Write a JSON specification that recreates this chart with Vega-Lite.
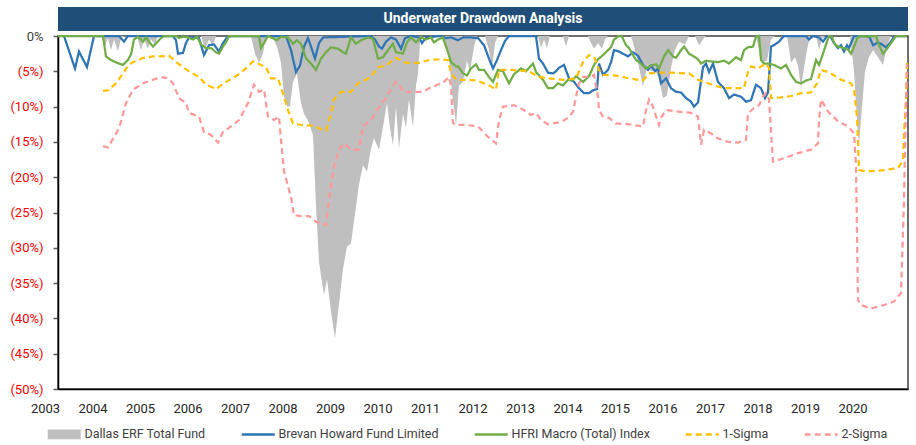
{
"$schema": "https://vega.github.io/schema/vega-lite/v6.json",
"background": "white",
"padding": {"left": 9, "top": 7, "right": 5, "bottom": 2},
"config": {"view": {"stroke": null}, "font": "Roboto"},
"spacing": 5,
"bounds": "flush",
"datasets": {"d": [
{"s":"Dallas ERF Total Fund","t":2003.274,"v":0},{"s":"Dallas ERF Total Fund","t":2004.179,"v":0},{"s":"Dallas ERF Total Fund","t":2004.263,"v":-1.5},{"s":"Dallas ERF Total Fund","t":2004.326,"v":-0.3},{"s":"Dallas ERF Total Fund","t":2004.389,"v":-2.0},{"s":"Dallas ERF Total Fund","t":2004.453,"v":-0.5},{"s":"Dallas ERF Total Fund","t":2004.537,"v":-2.2},{"s":"Dallas ERF Total Fund","t":2004.600,"v":-0.3},{"s":"Dallas ERF Total Fund","t":2004.684,"v":0},{"s":"Dallas ERF Total Fund","t":2004.937,"v":0},{"s":"Dallas ERF Total Fund","t":2005.021,"v":-2.0},{"s":"Dallas ERF Total Fund","t":2005.084,"v":-0.5},{"s":"Dallas ERF Total Fund","t":2005.168,"v":-1.8},{"s":"Dallas ERF Total Fund","t":2005.232,"v":-0.5},{"s":"Dallas ERF Total Fund","t":2005.316,"v":-1.2},{"s":"Dallas ERF Total Fund","t":2005.379,"v":0},{"s":"Dallas ERF Total Fund","t":2006.284,"v":0},{"s":"Dallas ERF Total Fund","t":2006.368,"v":-1.8},{"s":"Dallas ERF Total Fund","t":2006.453,"v":-0.5},{"s":"Dallas ERF Total Fund","t":2006.537,"v":-1.5},{"s":"Dallas ERF Total Fund","t":2006.600,"v":0},{"s":"Dallas ERF Total Fund","t":2007.337,"v":0},{"s":"Dallas ERF Total Fund","t":2007.421,"v":-2.5},{"s":"Dallas ERF Total Fund","t":2007.505,"v":-3.8},{"s":"Dallas ERF Total Fund","t":2007.589,"v":-2.5},{"s":"Dallas ERF Total Fund","t":2007.653,"v":0},{"s":"Dallas ERF Total Fund","t":2007.779,"v":0},{"s":"Dallas ERF Total Fund","t":2007.884,"v":-1.5},{"s":"Dallas ERF Total Fund","t":2007.968,"v":-3.8},{"s":"Dallas ERF Total Fund","t":2008.032,"v":-8.6},{"s":"Dallas ERF Total Fund","t":2008.095,"v":-10.0},{"s":"Dallas ERF Total Fund","t":2008.158,"v":-10.0},{"s":"Dallas ERF Total Fund","t":2008.221,"v":-6.5},{"s":"Dallas ERF Total Fund","t":2008.305,"v":-5.3},{"s":"Dallas ERF Total Fund","t":2008.389,"v":-9.5},{"s":"Dallas ERF Total Fund","t":2008.453,"v":-11.0},{"s":"Dallas ERF Total Fund","t":2008.537,"v":-12.0},{"s":"Dallas ERF Total Fund","t":2008.642,"v":-14.0},{"s":"Dallas ERF Total Fund","t":2008.705,"v":-24.0},{"s":"Dallas ERF Total Fund","t":2008.768,"v":-32.0},{"s":"Dallas ERF Total Fund","t":2008.874,"v":-36.7},{"s":"Dallas ERF Total Fund","t":2008.937,"v":-34.5},{"s":"Dallas ERF Total Fund","t":2009.021,"v":-39.0},{"s":"Dallas ERF Total Fund","t":2009.105,"v":-42.8},{"s":"Dallas ERF Total Fund","t":2009.189,"v":-38.0},{"s":"Dallas ERF Total Fund","t":2009.274,"v":-33.0},{"s":"Dallas ERF Total Fund","t":2009.358,"v":-29.8},{"s":"Dallas ERF Total Fund","t":2009.442,"v":-29.4},{"s":"Dallas ERF Total Fund","t":2009.547,"v":-24.2},{"s":"Dallas ERF Total Fund","t":2009.611,"v":-21.0},{"s":"Dallas ERF Total Fund","t":2009.695,"v":-18.3},{"s":"Dallas ERF Total Fund","t":2009.779,"v":-19.2},{"s":"Dallas ERF Total Fund","t":2009.863,"v":-16.0},{"s":"Dallas ERF Total Fund","t":2009.926,"v":-14.5},{"s":"Dallas ERF Total Fund","t":2010.032,"v":-16.1},{"s":"Dallas ERF Total Fund","t":2010.137,"v":-12.0},{"s":"Dallas ERF Total Fund","t":2010.200,"v":-9.5},{"s":"Dallas ERF Total Fund","t":2010.263,"v":-13.0},{"s":"Dallas ERF Total Fund","t":2010.326,"v":-15.5},{"s":"Dallas ERF Total Fund","t":2010.389,"v":-10.0},{"s":"Dallas ERF Total Fund","t":2010.453,"v":-15.9},{"s":"Dallas ERF Total Fund","t":2010.537,"v":-11.0},{"s":"Dallas ERF Total Fund","t":2010.600,"v":-13.0},{"s":"Dallas ERF Total Fund","t":2010.663,"v":-9.0},{"s":"Dallas ERF Total Fund","t":2010.747,"v":-12.9},{"s":"Dallas ERF Total Fund","t":2010.811,"v":-7.0},{"s":"Dallas ERF Total Fund","t":2010.853,"v":-5.3},{"s":"Dallas ERF Total Fund","t":2010.895,"v":-1.0},{"s":"Dallas ERF Total Fund","t":2010.937,"v":0},{"s":"Dallas ERF Total Fund","t":2011.337,"v":0},{"s":"Dallas ERF Total Fund","t":2011.421,"v":-1.5},{"s":"Dallas ERF Total Fund","t":2011.505,"v":-3.0},{"s":"Dallas ERF Total Fund","t":2011.568,"v":-8.0},{"s":"Dallas ERF Total Fund","t":2011.653,"v":-12.6},{"s":"Dallas ERF Total Fund","t":2011.716,"v":-7.0},{"s":"Dallas ERF Total Fund","t":2011.800,"v":-6.5},{"s":"Dallas ERF Total Fund","t":2011.884,"v":-3.5},{"s":"Dallas ERF Total Fund","t":2011.947,"v":-5.0},{"s":"Dallas ERF Total Fund","t":2012.032,"v":-1.5},{"s":"Dallas ERF Total Fund","t":2012.095,"v":0},{"s":"Dallas ERF Total Fund","t":2012.263,"v":0},{"s":"Dallas ERF Total Fund","t":2012.347,"v":-2.0},{"s":"Dallas ERF Total Fund","t":2012.411,"v":-4.6},{"s":"Dallas ERF Total Fund","t":2012.474,"v":-1.0},{"s":"Dallas ERF Total Fund","t":2012.537,"v":0},{"s":"Dallas ERF Total Fund","t":2013.379,"v":0},{"s":"Dallas ERF Total Fund","t":2013.442,"v":-1.7},{"s":"Dallas ERF Total Fund","t":2013.505,"v":-0.5},{"s":"Dallas ERF Total Fund","t":2013.568,"v":-1.7},{"s":"Dallas ERF Total Fund","t":2013.632,"v":0},{"s":"Dallas ERF Total Fund","t":2013.905,"v":0},{"s":"Dallas ERF Total Fund","t":2013.968,"v":-1.5},{"s":"Dallas ERF Total Fund","t":2014.032,"v":0},{"s":"Dallas ERF Total Fund","t":2014.432,"v":0},{"s":"Dallas ERF Total Fund","t":2014.495,"v":-1.0},{"s":"Dallas ERF Total Fund","t":2014.558,"v":-1.8},{"s":"Dallas ERF Total Fund","t":2014.642,"v":-1.0},{"s":"Dallas ERF Total Fund","t":2014.726,"v":-1.8},{"s":"Dallas ERF Total Fund","t":2014.789,"v":-0.5},{"s":"Dallas ERF Total Fund","t":2014.853,"v":0},{"s":"Dallas ERF Total Fund","t":2015.337,"v":0},{"s":"Dallas ERF Total Fund","t":2015.421,"v":-2.0},{"s":"Dallas ERF Total Fund","t":2015.505,"v":-4.4},{"s":"Dallas ERF Total Fund","t":2015.589,"v":-7.2},{"s":"Dallas ERF Total Fund","t":2015.674,"v":-4.4},{"s":"Dallas ERF Total Fund","t":2015.758,"v":-5.0},{"s":"Dallas ERF Total Fund","t":2015.842,"v":-4.8},{"s":"Dallas ERF Total Fund","t":2015.926,"v":-6.0},{"s":"Dallas ERF Total Fund","t":2016.011,"v":-8.8},{"s":"Dallas ERF Total Fund","t":2016.095,"v":-8.4},{"s":"Dallas ERF Total Fund","t":2016.179,"v":-4.5},{"s":"Dallas ERF Total Fund","t":2016.263,"v":-2.0},{"s":"Dallas ERF Total Fund","t":2016.347,"v":-0.8},{"s":"Dallas ERF Total Fund","t":2016.474,"v":-1.2},{"s":"Dallas ERF Total Fund","t":2016.558,"v":0},{"s":"Dallas ERF Total Fund","t":2016.684,"v":0},{"s":"Dallas ERF Total Fund","t":2016.768,"v":-1.3},{"s":"Dallas ERF Total Fund","t":2016.853,"v":-0.5},{"s":"Dallas ERF Total Fund","t":2016.916,"v":0},{"s":"Dallas ERF Total Fund","t":2017.968,"v":0},{"s":"Dallas ERF Total Fund","t":2018.032,"v":-2.0},{"s":"Dallas ERF Total Fund","t":2018.116,"v":-3.7},{"s":"Dallas ERF Total Fund","t":2018.200,"v":-3.5},{"s":"Dallas ERF Total Fund","t":2018.284,"v":-0.5},{"s":"Dallas ERF Total Fund","t":2018.368,"v":0},{"s":"Dallas ERF Total Fund","t":2018.621,"v":0},{"s":"Dallas ERF Total Fund","t":2018.705,"v":-3.8},{"s":"Dallas ERF Total Fund","t":2018.789,"v":-3.0},{"s":"Dallas ERF Total Fund","t":2018.853,"v":-4.2},{"s":"Dallas ERF Total Fund","t":2018.916,"v":-7.4},{"s":"Dallas ERF Total Fund","t":2018.979,"v":-4.5},{"s":"Dallas ERF Total Fund","t":2019.042,"v":-2.0},{"s":"Dallas ERF Total Fund","t":2019.105,"v":0},{"s":"Dallas ERF Total Fund","t":2019.232,"v":0},{"s":"Dallas ERF Total Fund","t":2019.295,"v":-2.0},{"s":"Dallas ERF Total Fund","t":2019.358,"v":-0.5},{"s":"Dallas ERF Total Fund","t":2019.421,"v":0},{"s":"Dallas ERF Total Fund","t":2019.947,"v":0},{"s":"Dallas ERF Total Fund","t":2020.032,"v":-5.0},{"s":"Dallas ERF Total Fund","t":2020.095,"v":-12.0},{"s":"Dallas ERF Total Fund","t":2020.137,"v":-15.4},{"s":"Dallas ERF Total Fund","t":2020.200,"v":-10.0},{"s":"Dallas ERF Total Fund","t":2020.263,"v":-5.0},{"s":"Dallas ERF Total Fund","t":2020.347,"v":-3.0},{"s":"Dallas ERF Total Fund","t":2020.432,"v":-2.0},{"s":"Dallas ERF Total Fund","t":2020.537,"v":-3.0},{"s":"Dallas ERF Total Fund","t":2020.642,"v":-4.1},{"s":"Dallas ERF Total Fund","t":2020.726,"v":-1.5},{"s":"Dallas ERF Total Fund","t":2020.811,"v":0},{"s":"Dallas ERF Total Fund","t":2021.147,"v":0},
{"s":"Brevan Howard Fund Limited","t":2003.400,"v":0},{"s":"Brevan Howard Fund Limited","t":2003.632,"v":-4.6},{"s":"Brevan Howard Fund Limited","t":2003.716,"v":-2.2},{"s":"Brevan Howard Fund Limited","t":2003.884,"v":-4.4},{"s":"Brevan Howard Fund Limited","t":2004.032,"v":0},{"s":"Brevan Howard Fund Limited","t":2004.558,"v":0},{"s":"Brevan Howard Fund Limited","t":2004.663,"v":-0.8},{"s":"Brevan Howard Fund Limited","t":2004.747,"v":0},{"s":"Brevan Howard Fund Limited","t":2005.695,"v":0},{"s":"Brevan Howard Fund Limited","t":2005.758,"v":-0.6},{"s":"Brevan Howard Fund Limited","t":2005.800,"v":-2.5},{"s":"Brevan Howard Fund Limited","t":2005.905,"v":-2.4},{"s":"Brevan Howard Fund Limited","t":2005.968,"v":-1.0},{"s":"Brevan Howard Fund Limited","t":2006.032,"v":-0.2},{"s":"Brevan Howard Fund Limited","t":2006.242,"v":-0.3},{"s":"Brevan Howard Fund Limited","t":2006.347,"v":-2.7},{"s":"Brevan Howard Fund Limited","t":2006.453,"v":-1.3},{"s":"Brevan Howard Fund Limited","t":2006.558,"v":-1.2},{"s":"Brevan Howard Fund Limited","t":2006.663,"v":-2.2},{"s":"Brevan Howard Fund Limited","t":2006.747,"v":-1.0},{"s":"Brevan Howard Fund Limited","t":2006.832,"v":-0.2},{"s":"Brevan Howard Fund Limited","t":2006.916,"v":0},{"s":"Brevan Howard Fund Limited","t":2008.074,"v":0},{"s":"Brevan Howard Fund Limited","t":2008.179,"v":-2.0},{"s":"Brevan Howard Fund Limited","t":2008.284,"v":-5.1},{"s":"Brevan Howard Fund Limited","t":2008.368,"v":-4.2},{"s":"Brevan Howard Fund Limited","t":2008.453,"v":-1.5},{"s":"Brevan Howard Fund Limited","t":2008.537,"v":-0.3},{"s":"Brevan Howard Fund Limited","t":2008.600,"v":-1.5},{"s":"Brevan Howard Fund Limited","t":2008.684,"v":-3.2},{"s":"Brevan Howard Fund Limited","t":2008.768,"v":-1.0},{"s":"Brevan Howard Fund Limited","t":2008.853,"v":-0.2},{"s":"Brevan Howard Fund Limited","t":2009.863,"v":0},{"s":"Brevan Howard Fund Limited","t":2009.947,"v":-0.5},{"s":"Brevan Howard Fund Limited","t":2010.032,"v":-1.5},{"s":"Brevan Howard Fund Limited","t":2010.095,"v":-1.8},{"s":"Brevan Howard Fund Limited","t":2010.179,"v":-0.8},{"s":"Brevan Howard Fund Limited","t":2010.284,"v":-0.2},{"s":"Brevan Howard Fund Limited","t":2010.389,"v":-0.5},{"s":"Brevan Howard Fund Limited","t":2010.495,"v":-1.8},{"s":"Brevan Howard Fund Limited","t":2010.579,"v":-0.3},{"s":"Brevan Howard Fund Limited","t":2010.705,"v":0},{"s":"Brevan Howard Fund Limited","t":2010.874,"v":-0.2},{"s":"Brevan Howard Fund Limited","t":2010.937,"v":-1.0},{"s":"Brevan Howard Fund Limited","t":2011.021,"v":-0.2},{"s":"Brevan Howard Fund Limited","t":2011.337,"v":0},{"s":"Brevan Howard Fund Limited","t":2011.442,"v":-0.3},{"s":"Brevan Howard Fund Limited","t":2011.547,"v":-0.2},{"s":"Brevan Howard Fund Limited","t":2011.695,"v":-0.6},{"s":"Brevan Howard Fund Limited","t":2011.800,"v":-0.2},{"s":"Brevan Howard Fund Limited","t":2011.968,"v":-0.2},{"s":"Brevan Howard Fund Limited","t":2012.116,"v":-0.3},{"s":"Brevan Howard Fund Limited","t":2012.242,"v":-1.3},{"s":"Brevan Howard Fund Limited","t":2012.347,"v":-3.2},{"s":"Brevan Howard Fund Limited","t":2012.432,"v":-4.6},{"s":"Brevan Howard Fund Limited","t":2012.516,"v":-3.4},{"s":"Brevan Howard Fund Limited","t":2012.600,"v":-2.0},{"s":"Brevan Howard Fund Limited","t":2012.684,"v":-0.7},{"s":"Brevan Howard Fund Limited","t":2012.768,"v":0},{"s":"Brevan Howard Fund Limited","t":2013.337,"v":0},{"s":"Brevan Howard Fund Limited","t":2013.400,"v":-3.2},{"s":"Brevan Howard Fund Limited","t":2013.484,"v":-3.9},{"s":"Brevan Howard Fund Limited","t":2013.589,"v":-5.2},{"s":"Brevan Howard Fund Limited","t":2013.695,"v":-5.3},{"s":"Brevan Howard Fund Limited","t":2013.758,"v":-5.0},{"s":"Brevan Howard Fund Limited","t":2013.821,"v":-4.5},{"s":"Brevan Howard Fund Limited","t":2013.926,"v":-4.1},{"s":"Brevan Howard Fund Limited","t":2014.032,"v":-6.0},{"s":"Brevan Howard Fund Limited","t":2014.137,"v":-6.5},{"s":"Brevan Howard Fund Limited","t":2014.242,"v":-7.4},{"s":"Brevan Howard Fund Limited","t":2014.347,"v":-8.1},{"s":"Brevan Howard Fund Limited","t":2014.453,"v":-8.1},{"s":"Brevan Howard Fund Limited","t":2014.537,"v":-7.7},{"s":"Brevan Howard Fund Limited","t":2014.621,"v":-7.5},{"s":"Brevan Howard Fund Limited","t":2014.663,"v":-3.9},{"s":"Brevan Howard Fund Limited","t":2014.747,"v":-5.5},{"s":"Brevan Howard Fund Limited","t":2014.853,"v":-4.8},{"s":"Brevan Howard Fund Limited","t":2014.916,"v":-3.7},{"s":"Brevan Howard Fund Limited","t":2014.979,"v":-2.0},{"s":"Brevan Howard Fund Limited","t":2015.084,"v":-2.2},{"s":"Brevan Howard Fund Limited","t":2015.168,"v":-2.5},{"s":"Brevan Howard Fund Limited","t":2015.274,"v":-2.9},{"s":"Brevan Howard Fund Limited","t":2015.379,"v":-2.3},{"s":"Brevan Howard Fund Limited","t":2015.484,"v":-2.8},{"s":"Brevan Howard Fund Limited","t":2015.589,"v":-4.1},{"s":"Brevan Howard Fund Limited","t":2015.695,"v":-4.8},{"s":"Brevan Howard Fund Limited","t":2015.758,"v":-4.2},{"s":"Brevan Howard Fund Limited","t":2015.842,"v":-5.0},{"s":"Brevan Howard Fund Limited","t":2015.905,"v":-4.6},{"s":"Brevan Howard Fund Limited","t":2015.968,"v":-6.7},{"s":"Brevan Howard Fund Limited","t":2016.074,"v":-6.0},{"s":"Brevan Howard Fund Limited","t":2016.179,"v":-7.4},{"s":"Brevan Howard Fund Limited","t":2016.284,"v":-7.9},{"s":"Brevan Howard Fund Limited","t":2016.389,"v":-8.0},{"s":"Brevan Howard Fund Limited","t":2016.495,"v":-8.8},{"s":"Brevan Howard Fund Limited","t":2016.600,"v":-9.3},{"s":"Brevan Howard Fund Limited","t":2016.663,"v":-10.0},{"s":"Brevan Howard Fund Limited","t":2016.747,"v":-9.4},{"s":"Brevan Howard Fund Limited","t":2016.853,"v":-4.4},{"s":"Brevan Howard Fund Limited","t":2016.916,"v":-3.9},{"s":"Brevan Howard Fund Limited","t":2016.979,"v":-5.1},{"s":"Brevan Howard Fund Limited","t":2017.063,"v":-3.9},{"s":"Brevan Howard Fund Limited","t":2017.168,"v":-6.5},{"s":"Brevan Howard Fund Limited","t":2017.295,"v":-7.4},{"s":"Brevan Howard Fund Limited","t":2017.400,"v":-8.8},{"s":"Brevan Howard Fund Limited","t":2017.505,"v":-8.3},{"s":"Brevan Howard Fund Limited","t":2017.653,"v":-8.6},{"s":"Brevan Howard Fund Limited","t":2017.758,"v":-9.3},{"s":"Brevan Howard Fund Limited","t":2017.863,"v":-9.1},{"s":"Brevan Howard Fund Limited","t":2017.968,"v":-6.9},{"s":"Brevan Howard Fund Limited","t":2018.074,"v":-7.4},{"s":"Brevan Howard Fund Limited","t":2018.158,"v":-8.8},{"s":"Brevan Howard Fund Limited","t":2018.221,"v":-8.0},{"s":"Brevan Howard Fund Limited","t":2018.284,"v":-1.5},{"s":"Brevan Howard Fund Limited","t":2018.368,"v":-1.2},{"s":"Brevan Howard Fund Limited","t":2018.453,"v":-0.8},{"s":"Brevan Howard Fund Limited","t":2018.558,"v":0},{"s":"Brevan Howard Fund Limited","t":2019.021,"v":0},{"s":"Brevan Howard Fund Limited","t":2019.084,"v":-0.5},{"s":"Brevan Howard Fund Limited","t":2019.168,"v":0},{"s":"Brevan Howard Fund Limited","t":2019.295,"v":-0.2},{"s":"Brevan Howard Fund Limited","t":2019.379,"v":-0.8},{"s":"Brevan Howard Fund Limited","t":2019.463,"v":0},{"s":"Brevan Howard Fund Limited","t":2019.547,"v":-0.2},{"s":"Brevan Howard Fund Limited","t":2019.611,"v":-1.0},{"s":"Brevan Howard Fund Limited","t":2019.695,"v":-1.7},{"s":"Brevan Howard Fund Limited","t":2019.758,"v":-1.3},{"s":"Brevan Howard Fund Limited","t":2019.821,"v":-2.2},{"s":"Brevan Howard Fund Limited","t":2019.884,"v":-1.3},{"s":"Brevan Howard Fund Limited","t":2019.926,"v":-1.7},{"s":"Brevan Howard Fund Limited","t":2019.968,"v":-1.0},{"s":"Brevan Howard Fund Limited","t":2020.032,"v":0},{"s":"Brevan Howard Fund Limited","t":2020.347,"v":0},{"s":"Brevan Howard Fund Limited","t":2020.432,"v":-1.3},{"s":"Brevan Howard Fund Limited","t":2020.537,"v":-0.9},{"s":"Brevan Howard Fund Limited","t":2020.621,"v":-1.2},{"s":"Brevan Howard Fund Limited","t":2020.705,"v":-1.6},{"s":"Brevan Howard Fund Limited","t":2020.789,"v":-1.0},{"s":"Brevan Howard Fund Limited","t":2020.853,"v":-0.3},{"s":"Brevan Howard Fund Limited","t":2020.916,"v":0},{"s":"Brevan Howard Fund Limited","t":2021.147,"v":0},
{"s":"HFRI Macro (Total) Index","t":2003.274,"v":0},{"s":"HFRI Macro (Total) Index","t":2004.221,"v":0},{"s":"HFRI Macro (Total) Index","t":2004.284,"v":-2.9},{"s":"HFRI Macro (Total) Index","t":2004.389,"v":-3.4},{"s":"HFRI Macro (Total) Index","t":2004.516,"v":-3.8},{"s":"HFRI Macro (Total) Index","t":2004.642,"v":-4.1},{"s":"HFRI Macro (Total) Index","t":2004.747,"v":-3.4},{"s":"HFRI Macro (Total) Index","t":2004.811,"v":-2.6},{"s":"HFRI Macro (Total) Index","t":2004.874,"v":-0.5},{"s":"HFRI Macro (Total) Index","t":2004.958,"v":-0.1},{"s":"HFRI Macro (Total) Index","t":2005.063,"v":-0.8},{"s":"HFRI Macro (Total) Index","t":2005.126,"v":-0.2},{"s":"HFRI Macro (Total) Index","t":2005.189,"v":-0.8},{"s":"HFRI Macro (Total) Index","t":2005.274,"v":-1.5},{"s":"HFRI Macro (Total) Index","t":2005.358,"v":-0.9},{"s":"HFRI Macro (Total) Index","t":2005.442,"v":-0.3},{"s":"HFRI Macro (Total) Index","t":2005.505,"v":0},{"s":"HFRI Macro (Total) Index","t":2005.758,"v":0},{"s":"HFRI Macro (Total) Index","t":2005.821,"v":-0.3},{"s":"HFRI Macro (Total) Index","t":2005.905,"v":-0.1},{"s":"HFRI Macro (Total) Index","t":2006.011,"v":-0.2},{"s":"HFRI Macro (Total) Index","t":2006.116,"v":-0.5},{"s":"HFRI Macro (Total) Index","t":2006.200,"v":-0.1},{"s":"HFRI Macro (Total) Index","t":2006.284,"v":-1.2},{"s":"HFRI Macro (Total) Index","t":2006.389,"v":-1.7},{"s":"HFRI Macro (Total) Index","t":2006.495,"v":-1.7},{"s":"HFRI Macro (Total) Index","t":2006.600,"v":-2.3},{"s":"HFRI Macro (Total) Index","t":2006.663,"v":-2.5},{"s":"HFRI Macro (Total) Index","t":2006.747,"v":-1.5},{"s":"HFRI Macro (Total) Index","t":2006.811,"v":-0.9},{"s":"HFRI Macro (Total) Index","t":2006.874,"v":0},{"s":"HFRI Macro (Total) Index","t":2007.505,"v":0},{"s":"HFRI Macro (Total) Index","t":2007.547,"v":-1.7},{"s":"HFRI Macro (Total) Index","t":2007.611,"v":-1.0},{"s":"HFRI Macro (Total) Index","t":2007.695,"v":0},{"s":"HFRI Macro (Total) Index","t":2007.884,"v":-0.6},{"s":"HFRI Macro (Total) Index","t":2007.968,"v":-0.1},{"s":"HFRI Macro (Total) Index","t":2008.116,"v":-0.2},{"s":"HFRI Macro (Total) Index","t":2008.221,"v":-1.1},{"s":"HFRI Macro (Total) Index","t":2008.305,"v":-0.6},{"s":"HFRI Macro (Total) Index","t":2008.389,"v":-1.1},{"s":"HFRI Macro (Total) Index","t":2008.495,"v":-3.2},{"s":"HFRI Macro (Total) Index","t":2008.600,"v":-3.9},{"s":"HFRI Macro (Total) Index","t":2008.705,"v":-4.8},{"s":"HFRI Macro (Total) Index","t":2008.811,"v":-3.2},{"s":"HFRI Macro (Total) Index","t":2008.916,"v":-2.3},{"s":"HFRI Macro (Total) Index","t":2009.021,"v":-1.6},{"s":"HFRI Macro (Total) Index","t":2009.168,"v":-1.8},{"s":"HFRI Macro (Total) Index","t":2009.274,"v":-2.3},{"s":"HFRI Macro (Total) Index","t":2009.337,"v":-2.5},{"s":"HFRI Macro (Total) Index","t":2009.442,"v":-0.2},{"s":"HFRI Macro (Total) Index","t":2009.547,"v":-1.1},{"s":"HFRI Macro (Total) Index","t":2009.653,"v":-0.6},{"s":"HFRI Macro (Total) Index","t":2009.800,"v":-0.2},{"s":"HFRI Macro (Total) Index","t":2009.905,"v":-0.4},{"s":"HFRI Macro (Total) Index","t":2010.011,"v":-3.2},{"s":"HFRI Macro (Total) Index","t":2010.116,"v":-3.0},{"s":"HFRI Macro (Total) Index","t":2010.221,"v":-2.0},{"s":"HFRI Macro (Total) Index","t":2010.326,"v":-1.1},{"s":"HFRI Macro (Total) Index","t":2010.389,"v":-2.3},{"s":"HFRI Macro (Total) Index","t":2010.537,"v":-2.5},{"s":"HFRI Macro (Total) Index","t":2010.621,"v":-0.9},{"s":"HFRI Macro (Total) Index","t":2010.705,"v":-0.2},{"s":"HFRI Macro (Total) Index","t":2010.811,"v":-0.9},{"s":"HFRI Macro (Total) Index","t":2010.916,"v":-0.2},{"s":"HFRI Macro (Total) Index","t":2011.021,"v":-0.5},{"s":"HFRI Macro (Total) Index","t":2011.126,"v":-0.2},{"s":"HFRI Macro (Total) Index","t":2011.189,"v":-0.9},{"s":"HFRI Macro (Total) Index","t":2011.274,"v":-0.5},{"s":"HFRI Macro (Total) Index","t":2011.379,"v":-0.2},{"s":"HFRI Macro (Total) Index","t":2011.484,"v":-2.3},{"s":"HFRI Macro (Total) Index","t":2011.547,"v":-3.7},{"s":"HFRI Macro (Total) Index","t":2011.653,"v":-4.3},{"s":"HFRI Macro (Total) Index","t":2011.695,"v":-4.3},{"s":"HFRI Macro (Total) Index","t":2011.800,"v":-5.3},{"s":"HFRI Macro (Total) Index","t":2011.884,"v":-5.6},{"s":"HFRI Macro (Total) Index","t":2011.968,"v":-4.6},{"s":"HFRI Macro (Total) Index","t":2012.074,"v":-4.0},{"s":"HFRI Macro (Total) Index","t":2012.137,"v":-4.8},{"s":"HFRI Macro (Total) Index","t":2012.242,"v":-4.8},{"s":"HFRI Macro (Total) Index","t":2012.347,"v":-5.8},{"s":"HFRI Macro (Total) Index","t":2012.432,"v":-6.5},{"s":"HFRI Macro (Total) Index","t":2012.537,"v":-4.8},{"s":"HFRI Macro (Total) Index","t":2012.642,"v":-5.0},{"s":"HFRI Macro (Total) Index","t":2012.768,"v":-6.7},{"s":"HFRI Macro (Total) Index","t":2012.874,"v":-5.4},{"s":"HFRI Macro (Total) Index","t":2013.021,"v":-4.6},{"s":"HFRI Macro (Total) Index","t":2013.126,"v":-5.0},{"s":"HFRI Macro (Total) Index","t":2013.274,"v":-3.9},{"s":"HFRI Macro (Total) Index","t":2013.337,"v":-5.1},{"s":"HFRI Macro (Total) Index","t":2013.484,"v":-6.2},{"s":"HFRI Macro (Total) Index","t":2013.589,"v":-7.4},{"s":"HFRI Macro (Total) Index","t":2013.695,"v":-7.4},{"s":"HFRI Macro (Total) Index","t":2013.800,"v":-6.7},{"s":"HFRI Macro (Total) Index","t":2013.905,"v":-7.0},{"s":"HFRI Macro (Total) Index","t":2014.011,"v":-6.2},{"s":"HFRI Macro (Total) Index","t":2014.095,"v":-6.3},{"s":"HFRI Macro (Total) Index","t":2014.179,"v":-5.7},{"s":"HFRI Macro (Total) Index","t":2014.326,"v":-6.5},{"s":"HFRI Macro (Total) Index","t":2014.453,"v":-5.7},{"s":"HFRI Macro (Total) Index","t":2014.558,"v":-4.1},{"s":"HFRI Macro (Total) Index","t":2014.642,"v":-3.3},{"s":"HFRI Macro (Total) Index","t":2014.747,"v":-2.7},{"s":"HFRI Macro (Total) Index","t":2014.853,"v":-2.0},{"s":"HFRI Macro (Total) Index","t":2014.916,"v":-1.6},{"s":"HFRI Macro (Total) Index","t":2014.979,"v":-0.5},{"s":"HFRI Macro (Total) Index","t":2015.084,"v":0},{"s":"HFRI Macro (Total) Index","t":2015.147,"v":-0.1},{"s":"HFRI Macro (Total) Index","t":2015.232,"v":-1.3},{"s":"HFRI Macro (Total) Index","t":2015.295,"v":-1.7},{"s":"HFRI Macro (Total) Index","t":2015.379,"v":-2.7},{"s":"HFRI Macro (Total) Index","t":2015.442,"v":-3.4},{"s":"HFRI Macro (Total) Index","t":2015.547,"v":-3.9},{"s":"HFRI Macro (Total) Index","t":2015.653,"v":-4.6},{"s":"HFRI Macro (Total) Index","t":2015.758,"v":-4.2},{"s":"HFRI Macro (Total) Index","t":2015.863,"v":-4.0},{"s":"HFRI Macro (Total) Index","t":2015.926,"v":-4.6},{"s":"HFRI Macro (Total) Index","t":2016.032,"v":-2.9},{"s":"HFRI Macro (Total) Index","t":2016.116,"v":-2.0},{"s":"HFRI Macro (Total) Index","t":2016.221,"v":-2.9},{"s":"HFRI Macro (Total) Index","t":2016.284,"v":-3.1},{"s":"HFRI Macro (Total) Index","t":2016.389,"v":-2.0},{"s":"HFRI Macro (Total) Index","t":2016.453,"v":-1.5},{"s":"HFRI Macro (Total) Index","t":2016.558,"v":-2.5},{"s":"HFRI Macro (Total) Index","t":2016.663,"v":-2.9},{"s":"HFRI Macro (Total) Index","t":2016.747,"v":-3.3},{"s":"HFRI Macro (Total) Index","t":2016.811,"v":-3.9},{"s":"HFRI Macro (Total) Index","t":2016.916,"v":-3.5},{"s":"HFRI Macro (Total) Index","t":2017.021,"v":-3.6},{"s":"HFRI Macro (Total) Index","t":2017.168,"v":-3.7},{"s":"HFRI Macro (Total) Index","t":2017.295,"v":-3.5},{"s":"HFRI Macro (Total) Index","t":2017.400,"v":-3.9},{"s":"HFRI Macro (Total) Index","t":2017.547,"v":-3.0},{"s":"HFRI Macro (Total) Index","t":2017.653,"v":-3.4},{"s":"HFRI Macro (Total) Index","t":2017.716,"v":-2.0},{"s":"HFRI Macro (Total) Index","t":2017.800,"v":-1.6},{"s":"HFRI Macro (Total) Index","t":2017.905,"v":-1.5},{"s":"HFRI Macro (Total) Index","t":2017.968,"v":-0.1},{"s":"HFRI Macro (Total) Index","t":2018.032,"v":0},{"s":"HFRI Macro (Total) Index","t":2018.074,"v":-3.4},{"s":"HFRI Macro (Total) Index","t":2018.137,"v":-3.9},{"s":"HFRI Macro (Total) Index","t":2018.242,"v":-3.9},{"s":"HFRI Macro (Total) Index","t":2018.347,"v":-4.1},{"s":"HFRI Macro (Total) Index","t":2018.495,"v":-4.6},{"s":"HFRI Macro (Total) Index","t":2018.600,"v":-4.1},{"s":"HFRI Macro (Total) Index","t":2018.705,"v":-5.5},{"s":"HFRI Macro (Total) Index","t":2018.811,"v":-6.5},{"s":"HFRI Macro (Total) Index","t":2018.916,"v":-6.7},{"s":"HFRI Macro (Total) Index","t":2019.021,"v":-6.3},{"s":"HFRI Macro (Total) Index","t":2019.126,"v":-6.1},{"s":"HFRI Macro (Total) Index","t":2019.232,"v":-3.4},{"s":"HFRI Macro (Total) Index","t":2019.295,"v":-4.1},{"s":"HFRI Macro (Total) Index","t":2019.379,"v":-2.5},{"s":"HFRI Macro (Total) Index","t":2019.442,"v":-1.2},{"s":"HFRI Macro (Total) Index","t":2019.505,"v":0},{"s":"HFRI Macro (Total) Index","t":2019.568,"v":-0.1},{"s":"HFRI Macro (Total) Index","t":2019.611,"v":-1.0},{"s":"HFRI Macro (Total) Index","t":2019.695,"v":-1.5},{"s":"HFRI Macro (Total) Index","t":2019.800,"v":-1.7},{"s":"HFRI Macro (Total) Index","t":2019.905,"v":-1.9},{"s":"HFRI Macro (Total) Index","t":2019.968,"v":-2.5},{"s":"HFRI Macro (Total) Index","t":2020.032,"v":-1.5},{"s":"HFRI Macro (Total) Index","t":2020.116,"v":-0.1},{"s":"HFRI Macro (Total) Index","t":2020.221,"v":0},{"s":"HFRI Macro (Total) Index","t":2020.326,"v":-0.1},{"s":"HFRI Macro (Total) Index","t":2020.389,"v":0},{"s":"HFRI Macro (Total) Index","t":2020.495,"v":0},{"s":"HFRI Macro (Total) Index","t":2020.558,"v":-1.3},{"s":"HFRI Macro (Total) Index","t":2020.642,"v":-2.5},{"s":"HFRI Macro (Total) Index","t":2020.705,"v":-2.0},{"s":"HFRI Macro (Total) Index","t":2020.811,"v":-1.0},{"s":"HFRI Macro (Total) Index","t":2020.916,"v":0},{"s":"HFRI Macro (Total) Index","t":2021.147,"v":0},
{"s":"1-Sigma","t":2004.221,"v":-7.75},{"s":"1-Sigma","t":2004.326,"v":-7.7},{"s":"1-Sigma","t":2004.495,"v":-6.7},{"s":"1-Sigma","t":2004.642,"v":-5.3},{"s":"1-Sigma","t":2004.768,"v":-4.0},{"s":"1-Sigma","t":2004.916,"v":-3.5},{"s":"1-Sigma","t":2005.063,"v":-3.1},{"s":"1-Sigma","t":2005.274,"v":-2.9},{"s":"1-Sigma","t":2005.442,"v":-2.9},{"s":"1-Sigma","t":2005.611,"v":-2.8},{"s":"1-Sigma","t":2005.716,"v":-3.4},{"s":"1-Sigma","t":2005.821,"v":-4.0},{"s":"1-Sigma","t":2005.905,"v":-4.4},{"s":"1-Sigma","t":2006.032,"v":-5.0},{"s":"1-Sigma","t":2006.137,"v":-5.4},{"s":"1-Sigma","t":2006.242,"v":-5.8},{"s":"1-Sigma","t":2006.389,"v":-6.9},{"s":"1-Sigma","t":2006.495,"v":-7.2},{"s":"1-Sigma","t":2006.600,"v":-7.5},{"s":"1-Sigma","t":2006.705,"v":-7.0},{"s":"1-Sigma","t":2006.811,"v":-6.5},{"s":"1-Sigma","t":2006.916,"v":-6.1},{"s":"1-Sigma","t":2007.063,"v":-5.5},{"s":"1-Sigma","t":2007.232,"v":-4.6},{"s":"1-Sigma","t":2007.379,"v":-3.6},{"s":"1-Sigma","t":2007.547,"v":-4.1},{"s":"1-Sigma","t":2007.653,"v":-4.4},{"s":"1-Sigma","t":2007.758,"v":-6.0},{"s":"1-Sigma","t":2007.905,"v":-6.0},{"s":"1-Sigma","t":2008.032,"v":-8.6},{"s":"1-Sigma","t":2008.116,"v":-10.5},{"s":"1-Sigma","t":2008.221,"v":-12.4},{"s":"1-Sigma","t":2008.389,"v":-12.6},{"s":"1-Sigma","t":2008.663,"v":-12.7},{"s":"1-Sigma","t":2008.811,"v":-13.2},{"s":"1-Sigma","t":2008.916,"v":-13.4},{"s":"1-Sigma","t":2009.021,"v":-11.0},{"s":"1-Sigma","t":2009.084,"v":-9.0},{"s":"1-Sigma","t":2009.147,"v":-8.5},{"s":"1-Sigma","t":2009.232,"v":-7.9},{"s":"1-Sigma","t":2009.442,"v":-7.9},{"s":"1-Sigma","t":2009.589,"v":-6.7},{"s":"1-Sigma","t":2009.758,"v":-6.2},{"s":"1-Sigma","t":2009.863,"v":-5.8},{"s":"1-Sigma","t":2010.011,"v":-4.4},{"s":"1-Sigma","t":2010.179,"v":-4.2},{"s":"1-Sigma","t":2010.389,"v":-3.1},{"s":"1-Sigma","t":2010.600,"v":-3.8},{"s":"1-Sigma","t":2010.874,"v":-3.8},{"s":"1-Sigma","t":2011.084,"v":-3.4},{"s":"1-Sigma","t":2011.295,"v":-3.3},{"s":"1-Sigma","t":2011.484,"v":-3.4},{"s":"1-Sigma","t":2011.547,"v":-5.3},{"s":"1-Sigma","t":2011.653,"v":-6.2},{"s":"1-Sigma","t":2011.863,"v":-6.2},{"s":"1-Sigma","t":2012.074,"v":-6.3},{"s":"1-Sigma","t":2012.326,"v":-6.9},{"s":"1-Sigma","t":2012.495,"v":-7.6},{"s":"1-Sigma","t":2012.558,"v":-4.8},{"s":"1-Sigma","t":2012.811,"v":-4.8},{"s":"1-Sigma","t":2012.958,"v":-4.9},{"s":"1-Sigma","t":2013.189,"v":-5.0},{"s":"1-Sigma","t":2013.400,"v":-5.8},{"s":"1-Sigma","t":2013.611,"v":-6.0},{"s":"1-Sigma","t":2013.905,"v":-6.2},{"s":"1-Sigma","t":2014.179,"v":-6.0},{"s":"1-Sigma","t":2014.326,"v":-3.7},{"s":"1-Sigma","t":2014.453,"v":-2.7},{"s":"1-Sigma","t":2014.558,"v":-2.9},{"s":"1-Sigma","t":2014.663,"v":-4.8},{"s":"1-Sigma","t":2014.747,"v":-5.5},{"s":"1-Sigma","t":2015.021,"v":-5.6},{"s":"1-Sigma","t":2015.295,"v":-6.0},{"s":"1-Sigma","t":2015.589,"v":-6.3},{"s":"1-Sigma","t":2015.716,"v":-5.3},{"s":"1-Sigma","t":2015.863,"v":-5.2},{"s":"1-Sigma","t":2016.137,"v":-5.2},{"s":"1-Sigma","t":2016.558,"v":-5.3},{"s":"1-Sigma","t":2016.747,"v":-6.2},{"s":"1-Sigma","t":2016.916,"v":-6.6},{"s":"1-Sigma","t":2017.084,"v":-7.0},{"s":"1-Sigma","t":2017.295,"v":-7.4},{"s":"1-Sigma","t":2017.547,"v":-7.4},{"s":"1-Sigma","t":2017.716,"v":-7.4},{"s":"1-Sigma","t":2017.800,"v":-5.1},{"s":"1-Sigma","t":2017.863,"v":-4.3},{"s":"1-Sigma","t":2018.011,"v":-4.6},{"s":"1-Sigma","t":2018.179,"v":-3.9},{"s":"1-Sigma","t":2018.242,"v":-4.5},{"s":"1-Sigma","t":2018.284,"v":-8.8},{"s":"1-Sigma","t":2018.495,"v":-8.7},{"s":"1-Sigma","t":2018.705,"v":-8.5},{"s":"1-Sigma","t":2018.916,"v":-8.1},{"s":"1-Sigma","t":2019.126,"v":-8.0},{"s":"1-Sigma","t":2019.253,"v":-6.7},{"s":"1-Sigma","t":2019.337,"v":-4.8},{"s":"1-Sigma","t":2019.442,"v":-5.0},{"s":"1-Sigma","t":2019.547,"v":-5.3},{"s":"1-Sigma","t":2019.758,"v":-6.2},{"s":"1-Sigma","t":2019.968,"v":-6.7},{"s":"1-Sigma","t":2020.032,"v":-7.5},{"s":"1-Sigma","t":2020.095,"v":-11.5},{"s":"1-Sigma","t":2020.137,"v":-19.0},{"s":"1-Sigma","t":2020.326,"v":-19.2},{"s":"1-Sigma","t":2020.495,"v":-19.1},{"s":"1-Sigma","t":2020.663,"v":-19.0},{"s":"1-Sigma","t":2020.958,"v":-18.7},{"s":"1-Sigma","t":2021.063,"v":-17.6},{"s":"1-Sigma","t":2021.084,"v":-13.8},{"s":"1-Sigma","t":2021.126,"v":-9.0},{"s":"1-Sigma","t":2021.147,"v":-3.8},
{"s":"2-Sigma","t":2004.221,"v":-15.6},{"s":"2-Sigma","t":2004.326,"v":-15.8},{"s":"2-Sigma","t":2004.453,"v":-14.3},{"s":"2-Sigma","t":2004.558,"v":-13.1},{"s":"2-Sigma","t":2004.705,"v":-9.5},{"s":"2-Sigma","t":2004.853,"v":-7.6},{"s":"2-Sigma","t":2005.063,"v":-6.7},{"s":"2-Sigma","t":2005.274,"v":-6.2},{"s":"2-Sigma","t":2005.442,"v":-5.8},{"s":"2-Sigma","t":2005.589,"v":-6.0},{"s":"2-Sigma","t":2005.695,"v":-6.7},{"s":"2-Sigma","t":2005.821,"v":-8.8},{"s":"2-Sigma","t":2005.968,"v":-9.5},{"s":"2-Sigma","t":2006.032,"v":-10.9},{"s":"2-Sigma","t":2006.242,"v":-11.4},{"s":"2-Sigma","t":2006.347,"v":-13.6},{"s":"2-Sigma","t":2006.495,"v":-14.0},{"s":"2-Sigma","t":2006.642,"v":-15.1},{"s":"2-Sigma","t":2006.747,"v":-13.6},{"s":"2-Sigma","t":2006.916,"v":-12.8},{"s":"2-Sigma","t":2007.084,"v":-11.9},{"s":"2-Sigma","t":2007.274,"v":-9.5},{"s":"2-Sigma","t":2007.400,"v":-6.9},{"s":"2-Sigma","t":2007.505,"v":-7.9},{"s":"2-Sigma","t":2007.611,"v":-7.6},{"s":"2-Sigma","t":2007.695,"v":-11.4},{"s":"2-Sigma","t":2007.821,"v":-11.9},{"s":"2-Sigma","t":2007.926,"v":-11.4},{"s":"2-Sigma","t":2007.968,"v":-14.7},{"s":"2-Sigma","t":2008.032,"v":-19.2},{"s":"2-Sigma","t":2008.179,"v":-22.8},{"s":"2-Sigma","t":2008.242,"v":-25.4},{"s":"2-Sigma","t":2008.389,"v":-25.5},{"s":"2-Sigma","t":2008.558,"v":-25.5},{"s":"2-Sigma","t":2008.705,"v":-26.3},{"s":"2-Sigma","t":2008.916,"v":-26.8},{"s":"2-Sigma","t":2008.979,"v":-23.2},{"s":"2-Sigma","t":2009.084,"v":-18.5},{"s":"2-Sigma","t":2009.189,"v":-16.1},{"s":"2-Sigma","t":2009.295,"v":-15.2},{"s":"2-Sigma","t":2009.442,"v":-16.1},{"s":"2-Sigma","t":2009.611,"v":-16.1},{"s":"2-Sigma","t":2009.695,"v":-12.8},{"s":"2-Sigma","t":2009.863,"v":-11.9},{"s":"2-Sigma","t":2009.989,"v":-10.5},{"s":"2-Sigma","t":2010.095,"v":-9.5},{"s":"2-Sigma","t":2010.200,"v":-8.6},{"s":"2-Sigma","t":2010.284,"v":-7.5},{"s":"2-Sigma","t":2010.389,"v":-6.5},{"s":"2-Sigma","t":2010.453,"v":-6.8},{"s":"2-Sigma","t":2010.537,"v":-7.9},{"s":"2-Sigma","t":2010.747,"v":-7.9},{"s":"2-Sigma","t":2010.958,"v":-7.9},{"s":"2-Sigma","t":2011.084,"v":-7.4},{"s":"2-Sigma","t":2011.232,"v":-7.0},{"s":"2-Sigma","t":2011.400,"v":-6.5},{"s":"2-Sigma","t":2011.505,"v":-5.8},{"s":"2-Sigma","t":2011.547,"v":-7.0},{"s":"2-Sigma","t":2011.589,"v":-12.3},{"s":"2-Sigma","t":2011.653,"v":-12.6},{"s":"2-Sigma","t":2011.863,"v":-12.6},{"s":"2-Sigma","t":2012.116,"v":-12.8},{"s":"2-Sigma","t":2012.326,"v":-14.3},{"s":"2-Sigma","t":2012.495,"v":-15.2},{"s":"2-Sigma","t":2012.558,"v":-11.9},{"s":"2-Sigma","t":2012.642,"v":-10.0},{"s":"2-Sigma","t":2012.874,"v":-9.8},{"s":"2-Sigma","t":2013.084,"v":-10.5},{"s":"2-Sigma","t":2013.232,"v":-11.2},{"s":"2-Sigma","t":2013.337,"v":-10.9},{"s":"2-Sigma","t":2013.442,"v":-11.9},{"s":"2-Sigma","t":2013.589,"v":-12.5},{"s":"2-Sigma","t":2013.863,"v":-12.2},{"s":"2-Sigma","t":2014.032,"v":-11.5},{"s":"2-Sigma","t":2014.116,"v":-10.7},{"s":"2-Sigma","t":2014.179,"v":-8.6},{"s":"2-Sigma","t":2014.242,"v":-6.7},{"s":"2-Sigma","t":2014.326,"v":-5.8},{"s":"2-Sigma","t":2014.453,"v":-5.8},{"s":"2-Sigma","t":2014.558,"v":-5.5},{"s":"2-Sigma","t":2014.642,"v":-8.6},{"s":"2-Sigma","t":2014.663,"v":-10.5},{"s":"2-Sigma","t":2014.747,"v":-11.4},{"s":"2-Sigma","t":2014.874,"v":-11.6},{"s":"2-Sigma","t":2015.021,"v":-12.4},{"s":"2-Sigma","t":2015.168,"v":-12.4},{"s":"2-Sigma","t":2015.379,"v":-12.6},{"s":"2-Sigma","t":2015.589,"v":-12.8},{"s":"2-Sigma","t":2015.653,"v":-10.5},{"s":"2-Sigma","t":2015.716,"v":-9.0},{"s":"2-Sigma","t":2015.800,"v":-10.0},{"s":"2-Sigma","t":2015.863,"v":-11.4},{"s":"2-Sigma","t":2015.926,"v":-12.6},{"s":"2-Sigma","t":2015.968,"v":-11.6},{"s":"2-Sigma","t":2016.074,"v":-10.5},{"s":"2-Sigma","t":2016.326,"v":-10.7},{"s":"2-Sigma","t":2016.600,"v":-10.9},{"s":"2-Sigma","t":2016.747,"v":-11.4},{"s":"2-Sigma","t":2016.811,"v":-15.4},{"s":"2-Sigma","t":2016.874,"v":-13.3},{"s":"2-Sigma","t":2017.021,"v":-13.8},{"s":"2-Sigma","t":2017.168,"v":-14.5},{"s":"2-Sigma","t":2017.379,"v":-15.0},{"s":"2-Sigma","t":2017.589,"v":-15.1},{"s":"2-Sigma","t":2017.758,"v":-14.7},{"s":"2-Sigma","t":2017.800,"v":-11.0},{"s":"2-Sigma","t":2017.926,"v":-10.2},{"s":"2-Sigma","t":2018.032,"v":-9.8},{"s":"2-Sigma","t":2018.116,"v":-8.6},{"s":"2-Sigma","t":2018.179,"v":-8.1},{"s":"2-Sigma","t":2018.242,"v":-9.0},{"s":"2-Sigma","t":2018.326,"v":-17.8},{"s":"2-Sigma","t":2018.558,"v":-17.3},{"s":"2-Sigma","t":2018.853,"v":-16.6},{"s":"2-Sigma","t":2019.126,"v":-16.1},{"s":"2-Sigma","t":2019.274,"v":-15.2},{"s":"2-Sigma","t":2019.295,"v":-11.9},{"s":"2-Sigma","t":2019.337,"v":-9.0},{"s":"2-Sigma","t":2019.484,"v":-10.7},{"s":"2-Sigma","t":2019.695,"v":-12.1},{"s":"2-Sigma","t":2019.905,"v":-12.8},{"s":"2-Sigma","t":2020.032,"v":-13.8},{"s":"2-Sigma","t":2020.074,"v":-18.5},{"s":"2-Sigma","t":2020.116,"v":-37.4},{"s":"2-Sigma","t":2020.179,"v":-38.1},{"s":"2-Sigma","t":2020.389,"v":-38.6},{"s":"2-Sigma","t":2020.663,"v":-38.1},{"s":"2-Sigma","t":2020.874,"v":-37.6},{"s":"2-Sigma","t":2021.021,"v":-36.4},{"s":"2-Sigma","t":2021.084,"v":-23.2},{"s":"2-Sigma","t":2021.126,"v":-9.0},{"s":"2-Sigma","t":2021.147,"v":-4.0}
]},
"vconcat": [
{
"width": 850, "height": 24,
"view": {"fill": "#1F4E79", "stroke": null},
"data": {"values": [{"label": "Underwater Drawdown Analysis"}]},
"mark": {"type": "text", "color": "white", "font": "Roboto", "fontWeight": "bold", "fontSize": 14, "align": "center", "baseline": "middle"},
"encoding": {"text": {"field": "label", "type": "nominal"}}
},
{
"width": 850, "height": 353,
"view": {"stroke": "#404040", "strokeWidth": 1.5},
"data": {"name": "d"},
"encoding": {
"x": {"field": "t", "type": "quantitative", "scale": {"domain": [2003.274, 2021.168], "nice": false, "zero": false},
"axis": {"title": null, "values": [2004,2005,2006,2007,2008,2009,2010,2011,2012,2013,2014,2015,2016,2017,2018,2019,2020,2021], "labelExpr": "format(datum.value - 1, 'd')", "labelOffset": -47.5, "ticks": false, "tickSize": 0, "grid": false, "domainColor": "#000000", "domainWidth": 1.5, "labelPadding": 13, "labelFont": "Roboto", "labelFontSize": 13, "labelColor": "#262626", "labelFlush": false, "labelOverlap": false, "labelBound": false}},
"y": {"field": "v", "type": "quantitative", "scale": {"domain": [-50, 0], "nice": false},
"axis": {"title": null, "values": [0,-5,-10,-15,-20,-25,-30,-35,-40,-45,-50], "labelExpr": "datum.value == 0 ? '0%' : '(' + format(-datum.value, 'd') + '%)'", "labelColor": {"condition": {"test": "datum.value == 0", "value": "#404040"}, "value": "#FF0000"}, "tickSize": 5, "tickColor": "#595959", "tickWidth": 1.5, "grid": false, "domainColor": "#000000", "domainWidth": 1.5, "labelPadding": 10, "labelFont": "Roboto", "labelFontSize": 13}}
},
"layer": [
{"transform": [{"filter": "datum.s === 'Dallas ERF Total Fund'"}], "mark": {"type": "area", "color": "#BFBFBF", "opacity": 1}},
{"transform": [{"filter": "datum.s !== 'Dallas ERF Total Fund'"}], "mark": {"type": "line", "strokeWidth": 2.25},
"encoding": {
"color": {"field": "s", "type": "nominal", "scale": {"domain": ["Dallas ERF Total Fund","Brevan Howard Fund Limited","HFRI Macro (Total) Index","1-Sigma","2-Sigma"], "range": ["#BFBFBF","#2E75B6","#70AD47","#FFC000","#FF9999"]},
"legend": {"title": null, "orient": "bottom", "direction": "horizontal", "symbolType": "M-3,0H3", "symbolSize": 121, "symbolStrokeWidth": 2.5, "labelFont": "Roboto", "labelFontSize": 12.5, "labelColor": "#404040", "columnPadding": 30, "labelOffset": 14, "offset": 12, "padding": 0,
"encode": {"symbols": {"update": {"shape": {"signal": "datum.value === 'Dallas ERF Total Fund' ? 'M-3,-0.9H3V0.9H-3Z' : 'M-3,0H3'"}, "fill": {"signal": "datum.value === 'Dallas ERF Total Fund' ? '#BFBFBF' : 'transparent'"}, "strokeWidth": {"signal": "datum.value === 'Dallas ERF Total Fund' ? 0 : 2.5"}}}}}},
"strokeDash": {"field": "s", "type": "nominal", "scale": {"domain": ["Dallas ERF Total Fund","Brevan Howard Fund Limited","HFRI Macro (Total) Index","1-Sigma","2-Sigma"], "range": [[1,0],[1,0],[1,0],[6,4],[6,4]]},
"legend": {"title": null, "orient": "bottom", "direction": "horizontal", "symbolType": "M-3,0H3", "symbolSize": 121, "symbolStrokeWidth": 2.5, "labelFont": "Roboto", "labelFontSize": 12.5, "labelColor": "#404040", "columnPadding": 30, "labelOffset": 14, "offset": 12, "padding": 0}}
}}
]
}
]
}
